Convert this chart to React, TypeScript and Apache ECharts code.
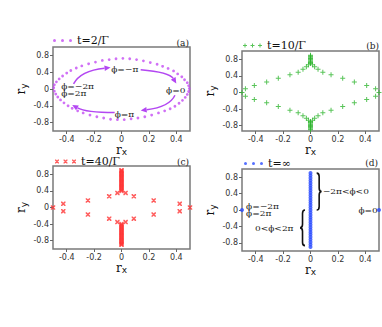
import React, { useEffect, useRef } from "react";
import * as echarts from "echarts";

const xTickValues = [-0.4, -0.2, 0, 0.2, 0.4];
const yTickValues = [-0.8, -0.4, 0, 0.4, 0.8];
const seriesNames = ["t=2/Γ", "t=10/Γ", "t=40/Γ", "t=∞"];
const panelLabels = ["(a)", "(b)", "(c)", "(d)"];

// panel (a): t = 2/Γ
const pointsT2 = [
  [-0.495, 0.03], [-0.49, 0.1], [-0.475, 0.17], [-0.455, 0.24], [-0.43, 0.31], [-0.4, 0.38],
  [-0.37, 0.44], [-0.33, 0.5], [-0.29, 0.55], [-0.24, 0.6], [-0.19, 0.64], [-0.14, 0.68],
  [-0.09, 0.7], [-0.04, 0.72], [0.01, 0.73], [0.06, 0.72], [0.11, 0.7], [0.16, 0.67],
  [0.21, 0.63], [0.26, 0.59], [0.3, 0.54], [0.34, 0.49], [0.38, 0.43], [0.41, 0.36],
  [0.44, 0.29], [0.46, 0.22], [0.48, 0.15], [0.49, 0.08], [0.495, 0.01],
  [0.49, -0.06], [0.48, -0.13], [0.465, -0.2], [0.445, -0.27], [0.42, -0.34], [0.39, -0.41],
  [0.355, -0.47], [0.315, -0.52], [0.27, -0.57], [0.22, -0.62], [0.17, -0.66], [0.12, -0.69],
  [0.07, -0.71], [0.02, -0.73], [-0.03, -0.73], [-0.08, -0.72], [-0.13, -0.69], [-0.18, -0.66],
  [-0.23, -0.62], [-0.28, -0.57], [-0.32, -0.52], [-0.36, -0.46], [-0.39, -0.4], [-0.42, -0.33],
  [-0.445, -0.26], [-0.465, -0.19], [-0.48, -0.12], [-0.49, -0.05],
];

// panel (b): t = 10/Γ
const pointsT10 = [
  [-0.5, 0], [-0.475, 0.09], [-0.41, 0.17], [-0.32, 0.25], [-0.235, 0.34], [-0.15, 0.43],
  [-0.09, 0.49], [-0.055, 0.56], [-0.03, 0.62], [-0.015, 0.67],
  [0, 0.7], [0, 0.72], [0, 0.74], [0, 0.76], [0, 0.78], [0, 0.8], [0, 0.82], [0, 0.84], [0, 0.86], [0, 0.88], [0, 0.9],
  [0.015, 0.67], [0.03, 0.62], [0.055, 0.56], [0.09, 0.49], [0.15, 0.43], [0.235, 0.34],
  [0.32, 0.25], [0.41, 0.17], [0.475, 0.09], [0.5, 0],
  [0.475, -0.09], [0.41, -0.17], [0.32, -0.25], [0.235, -0.34], [0.15, -0.43], [0.09, -0.49],
  [0.055, -0.56], [0.03, -0.62], [0.015, -0.67],
  [0, -0.7], [0, -0.72], [0, -0.74], [0, -0.76], [0, -0.78], [0, -0.8], [0, -0.82], [0, -0.84], [0, -0.86], [0, -0.88], [0, -0.9],
  [-0.015, -0.67], [-0.03, -0.62], [-0.055, -0.56], [-0.09, -0.49], [-0.15, -0.43], [-0.235, -0.34],
  [-0.32, -0.25], [-0.41, -0.17], [-0.475, -0.09],
];

// panel (c): t = 40/Γ
const pointsT40 = [
  [-0.5, 0], [-0.425, 0.09], [-0.425, -0.09], [-0.245, 0.17], [-0.245, -0.17], [-0.09, 0.27], [-0.09, -0.27],
  [-0.03, 0.35], [-0.03, -0.35], [0.03, 0.35], [0.03, -0.35], [0.09, 0.27], [0.09, -0.27],
  [0.235, 0.17], [0.235, -0.17], [0.425, 0.09], [0.425, -0.09], [0.5, 0],
  [0, 0.4], [0, 0.43], [0, 0.46], [0, 0.49], [0, 0.52], [0, 0.55], [0, 0.58], [0, 0.61], [0, 0.64],
  [0, 0.67], [0, 0.7], [0, 0.73], [0, 0.76], [0, 0.79], [0, 0.82], [0, 0.85], [0, 0.88], [0, 0.9],
  [0, -0.4], [0, -0.43], [0, -0.46], [0, -0.49], [0, -0.52], [0, -0.55], [0, -0.58], [0, -0.61], [0, -0.64],
  [0, -0.67], [0, -0.7], [0, -0.73], [0, -0.76], [0, -0.79], [0, -0.82], [0, -0.85], [0, -0.88], [0, -0.9],
];

// panel (d): t = ∞
const pointsTInf = [
  [-0.5, 0], [0.5, 0],
  [0, 0.9], [0, 0.84], [0, 0.78], [0, 0.72], [0, 0.66], [0, 0.6], [0, 0.54], [0, 0.48], [0, 0.42],
  [0, 0.36], [0, 0.3], [0, 0.24], [0, 0.18], [0, 0.12], [0, 0.06], [0, 0],
  [0, -0.06], [0, -0.12], [0, -0.18], [0, -0.24], [0, -0.3], [0, -0.36], [0, -0.42], [0, -0.48],
  [0, -0.54], [0, -0.6], [0, -0.66], [0, -0.72], [0, -0.78], [0, -0.84], [0, -0.9],
];

// annotations, in data coordinates
const arrowsA = [
  [-0.35, 0.12, -0.3, 0.44, -0.08, 0.51],
  [0.14, 0.46, 0.35, 0.4, 0.4, 0.13],
  [0.39, -0.15, 0.35, -0.43, 0.14, -0.51],
  [-0.05, -0.56, -0.26, -0.56, -0.36, -0.38],
];
const textsA: [number, number, string][] = [
  [-0.075, 0.46, "ϕ=−π"],
  [0.325, -0.02, "ϕ=0"],
  [-0.05, -0.6, "ϕ=π"],
  [-0.44, 0.075, "ϕ=−2π"],
  [-0.44, -0.095, "ϕ=2π"],
];
const textsD: [number, number, string][] = [
  [-0.47, 0.1, "ϕ=−2π"],
  [-0.47, -0.075, "ϕ=2π"],
  [0.09, 0.45, "−2π<ϕ<0"],
  [-0.405, -0.45, "0<ϕ<2π"],
  [0.35, 0.0, "ϕ=0"],
];
const bracesD = [
  [0.045, 0.9, 0.0, 1],
  [-0.04, 0.0, -0.87, -1],
];

const fontSans = '"DejaVu Sans", sans-serif';
const fontSerif = '"DejaVu Serif", serif';
const colors = ["#c44cf4", "#30b530", "#ff3535", "#2b4cff"];
const arrowColor = "#b347f2";

const grids = [
  { left: 53, top: 47, width: 137, height: 84 },
  { left: 242, top: 51, width: 137, height: 80 },
  { left: 53, top: 166, width: 137, height: 83 },
  { left: 242, top: 169, width: 137, height: 82 },
];
const yRanges = [[-1, 1], [-0.93, 1], [-1, 1], [-1, 1]];
const legendPos = [[53, 35], [243, 40], [55, 156], [244, 158]];
const labelPos = [[189, 43], [379, 46], [189, 162], [378, 163]];

const dotsIcon =
  "path://M0,1.5A1.5,1.5,0,1,1,3,1.5A1.5,1.5,0,1,1,0,1.5ZM8,1.5A1.5,1.5,0,1,1,11,1.5A1.5,1.5,0,1,1,8,1.5ZM16,1.5A1.5,1.5,0,1,1,19,1.5A1.5,1.5,0,1,1,16,1.5Z";
const plusIcon =
  "path://M0,1.5h4v1h-4zM1.5,0h1v4h-1zM7.5,1.5h4v1h-4zM9,0h1v4h-1zM15,1.5h4v1h-4zM16.5,0h1v4h-1z";
const crossIcon =
  "path://M0,0L1,0L4,3L4,4L3,4L0,1ZM3,0L4,0L4,1L1,4L0,4L0,3ZM8.5,0L9.5,0L12.5,3L12.5,4L11.5,4L8.5,1ZM11.5,0L12.5,0L12.5,1L9.5,4L8.5,4L8.5,3ZM17,0L18,0L21,3L21,4L20,4L17,1ZM20,0L21,0L21,1L18,4L17,4L17,3Z";
const legendIcons = [
  { icon: dotsIcon, w: 19, h: 3 },
  { icon: plusIcon, w: 19, h: 4 },
  { icon: crossIcon, w: 21, h: 4 },
  { icon: dotsIcon, w: 19, h: 3 },
];
const plusSymbol = "path://M0,2h5v1h-5zM2,0h1v5h-1z";
const crossSymbol = "path://M0,0L1,0L4,3L4,4L3,4L0,1ZM3,0L4,0L4,1L1,4L0,4L0,3Z";

const fmt = (v: number) => (v === 0 ? "0" : v.toFixed(1));

const nameRich = {
  r: { fontFamily: fontSerif, fontSize: 12, lineHeight: 13, verticalAlign: "top", color: "#111" },
  s: { fontFamily: fontSans, fontSize: 9, lineHeight: 13, verticalAlign: "bottom", color: "#111" },
};

export default function App() {
  const ref = useRef<HTMLDivElement>(null);
  useEffect(() => {
    if (!ref.current) return;
    const chart = echarts.init(ref.current, null, { renderer: "svg" });

    const textRenderer = (list: [number, number, string][]) => (params: any, api: any) => {
      const d = list[params.dataIndex];
      const p = api.coord([d[0], d[1]]);
      return {
        type: "text",
        x: p[0],
        y: p[1],
        scaleX: 1.2,
        style: {
          text: d[2],
          fill: "#222",
          fontFamily: fontSerif,
          fontSize: 7.5,
          align: "left",
          verticalAlign: "middle",
        },
      };
    };

    const option: any = {
      animation: false,
      backgroundColor: "#fff",
      grid: grids.map((g) => ({
        ...g,
        show: true,
        borderColor: "#7a7a7a",
        borderWidth: 1.5,
        backgroundColor: "transparent",
      })),
      xAxis: grids.map((_, i) => ({
        type: "value",
        gridIndex: i,
        min: -0.5,
        max: 0.5,
        axisLine: { show: false, onZero: false },
        axisTick: { show: true, customValues: xTickValues, length: 3, lineStyle: { color: "#666", width: 1 } },
        axisLabel: { customValues: xTickValues, formatter: fmt, fontSize: 8, fontFamily: fontSans, color: "#333", margin: 4 },
        splitLine: { show: false },
        name: "{r|r}{s|x}",
        nameLocation: "middle",
        nameGap: 9,
        nameTextStyle: { rich: nameRich },
      })),
      yAxis: grids.map((_, i) => ({
        type: "value",
        gridIndex: i,
        min: yRanges[i][0],
        max: yRanges[i][1],
        axisLine: { show: false, onZero: false },
        axisTick: { show: true, customValues: yTickValues, length: 3, lineStyle: { color: "#666", width: 1 } },
        axisLabel: { customValues: yTickValues, formatter: fmt, fontSize: 8, fontFamily: fontSans, color: "#333", margin: 4 },
        splitLine: { show: false },
        name: "{r|r}{s|y}",
        nameLocation: "middle",
        nameGap: 25,
        nameTextStyle: { rich: nameRich },
      })),
      legend: seriesNames.map((n, i) => ({
        data: [n],
        left: legendPos[i][0],
        top: legendPos[i][1],
        padding: 0,
        icon: legendIcons[i].icon,
        itemWidth: legendIcons[i].w,
        itemHeight: legendIcons[i].h,
        itemGap: 0,
        textStyle: { fontFamily: fontSerif, fontSize: 11, color: "#111", lineHeight: 10 },
      })),
      graphic: panelLabels.map((t, i) => ({
        type: "text",
        x: labelPos[i][0],
        y: labelPos[i][1],
        style: {
          text: t,
          fontFamily: fontSerif,
          fontSize: 9,
          fill: "#222",
          align: "right",
          verticalAlign: "middle",
          textAlign: "right",
          textVerticalAlign: "middle",
        },
      })),
      series: [
        {
          name: seriesNames[0], type: "scatter", xAxisIndex: 0, yAxisIndex: 0, data: pointsT2,
          symbol: "circle", symbolSize: 2.8, itemStyle: { color: colors[0] }, clip: false,
        },
        {
          name: seriesNames[1], type: "scatter", xAxisIndex: 1, yAxisIndex: 1, data: pointsT10,
          symbol: plusSymbol, symbolSize: 5, itemStyle: { color: colors[1] }, clip: false,
        },
        {
          name: seriesNames[2], type: "scatter", xAxisIndex: 2, yAxisIndex: 2, data: pointsT40,
          symbol: crossSymbol, symbolSize: 4.5, itemStyle: { color: colors[2] }, clip: false,
        },
        {
          name: seriesNames[3], type: "scatter", xAxisIndex: 3, yAxisIndex: 3, data: pointsTInf,
          symbol: "circle", symbolSize: 4, itemStyle: { color: colors[3] }, clip: false,
        },
        {
          type: "custom", xAxisIndex: 0, yAxisIndex: 0, data: arrowsA, silent: true,
          renderItem: (params: any, api: any) => {
            const p0 = api.coord([api.value(0), api.value(1)]);
            const c = api.coord([api.value(2), api.value(3)]);
            const p2 = api.coord([api.value(4), api.value(5)]);
            const dx = p2[0] - c[0];
            const dy = p2[1] - c[1];
            const len = Math.hypot(dx, dy) || 1;
            const ux = dx / len;
            const uy = dy / len;
            const L = 6;
            const W = 2.8;
            const bx = p2[0] - ux * L;
            const by = p2[1] - uy * L;
            return {
              type: "group",
              children: [
                {
                  type: "path",
                  shape: { pathData: `M${p0[0]},${p0[1]}Q${c[0]},${c[1]} ${bx},${by}` },
                  style: { fill: "none", stroke: arrowColor, lineWidth: 1.5 },
                },
                {
                  type: "polygon",
                  shape: { points: [[p2[0], p2[1]], [bx - uy * W, by + ux * W], [bx + uy * W, by - ux * W]] },
                  style: { fill: arrowColor },
                },
              ],
            };
          },
        },
        {
          type: "custom", xAxisIndex: 0, yAxisIndex: 0, silent: true,
          data: textsA.map((d) => [d[0], d[1]]),
          renderItem: textRenderer(textsA),
        },
        {
          type: "custom", xAxisIndex: 3, yAxisIndex: 3, silent: true,
          data: textsD.map((d) => [d[0], d[1]]),
          renderItem: textRenderer(textsD),
        },
        {
          type: "custom", xAxisIndex: 3, yAxisIndex: 3, silent: true, data: bracesD,
          renderItem: (params: any, api: any) => {
            const top = api.coord([api.value(0), api.value(1)]);
            const bot = api.coord([api.value(0), api.value(2)]);
            const dir = api.value(3);
            const x0 = top[0];
            const yt = top[1];
            const yb = bot[1];
            const ym = (yt + yb) / 2;
            const xa = x0 + 2.5 * dir;
            const xt = x0 + 5 * dir;
            const r = 3.5;
            const d =
              `M${x0},${yt}Q${xa},${yt} ${xa},${yt + r}L${xa},${ym - r}Q${xa},${ym} ${xt},${ym}` +
              `Q${xa},${ym} ${xa},${ym + r}L${xa},${yb - r}Q${xa},${yb} ${x0},${yb}`;
            return {
              type: "path",
              shape: { pathData: d },
              style: { fill: "none", stroke: "#111", lineWidth: 1.6 },
            };
          },
        },
      ],
    };
    chart.setOption(option);
    return () => chart.dispose();
  }, []);
  return <div ref={ref} style={{ position: "fixed", left: 0, top: 0, width: 382, height: 327 }} />;
}
